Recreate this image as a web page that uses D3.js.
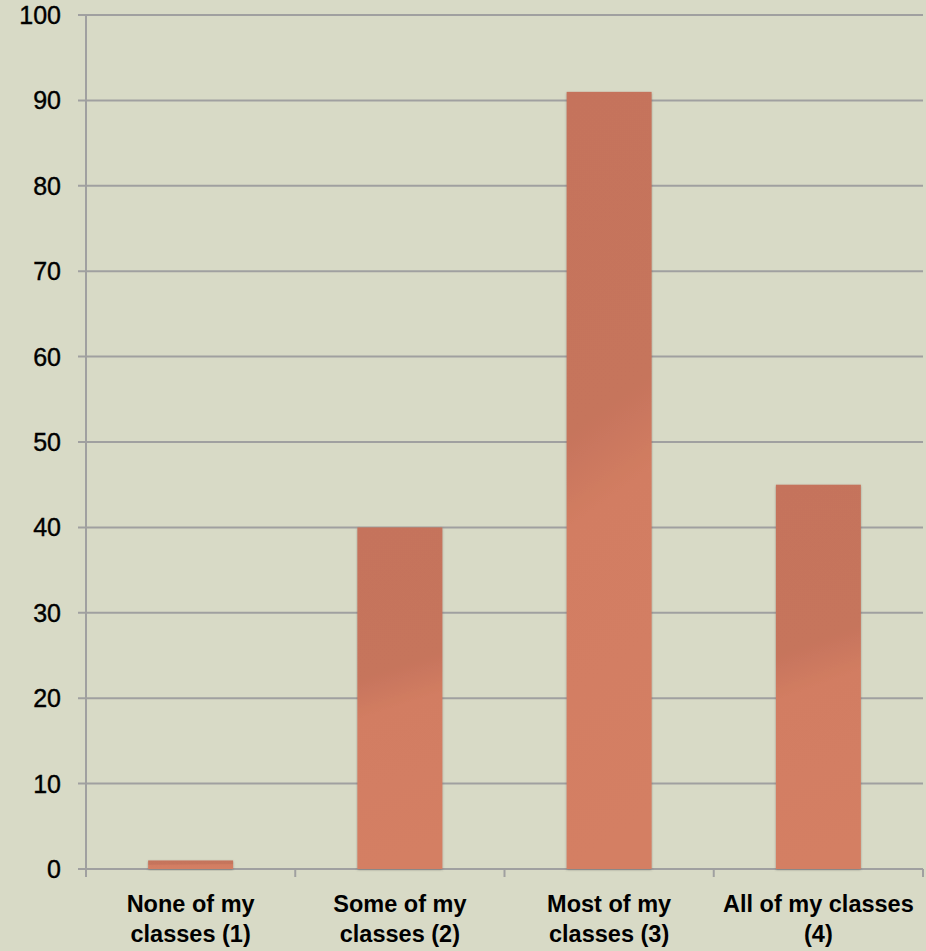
<!DOCTYPE html>
<html>
<head>
<meta charset="utf-8">
<script src="https://cdn.jsdelivr.net/npm/d3@7"></script>
<style>
  html, body { margin: 0; padding: 0; background: #d8dac6; }
  svg { display: block; }
  text { font-family: "Liberation Sans", Arial, sans-serif; font-weight: bold; fill: #000; }
</style>
</head>
<body>
<svg id="chart" width="926" height="951"></svg>
<script>
const categories = [["None of my", "classes (1)"], ["Some of my", "classes (2)"], ["Most of my", "classes (3)"], ["All of my classes", "(4)"]];
const values = [1, 40, 91, 45];
const yTicks = [0, 10, 20, 30, 40, 50, 60, 70, 80, 90, 100];

const W = 926, H = 951;
const mLeft = 86, mRight = 923, mTop = 15, mBottom = 869;

const svg = d3.select("#chart");
svg.append("rect").attr("width", W).attr("height", H).attr("fill", "#d8dac6");

const defs = svg.append("defs");
const grad = defs.append("linearGradient").attr("id", "barGrad")
  .attr("x1", 0).attr("y1", 0).attr("x2", 0.08).attr("y2", 1);
grad.append("stop").attr("offset", "0").attr("stop-color", "#c5735b");
grad.append("stop").attr("offset", "0.44").attr("stop-color", "#c6745c");
grad.append("stop").attr("offset", "0.56").attr("stop-color", "#d27d62");
grad.append("stop").attr("offset", "1").attr("stop-color", "#d47f64");

const f = defs.append("filter").attr("id", "shadow").attr("x", "-20%").attr("y", "-20%").attr("width", "140%").attr("height", "140%");
f.append("feDropShadow").attr("dx", 0).attr("dy", 1).attr("stdDeviation", 1.3)
  .attr("flood-color", "#555").attr("flood-opacity", 0.45);

const x = d3.scaleBand().domain(d3.range(categories.length)).range([mLeft, mRight]).paddingInner(0.594).paddingOuter(0.297);
const xOuter = d3.scaleBand().domain(d3.range(categories.length)).range([mLeft, mRight]);
const y = d3.scaleLinear().domain([0, 100]).range([mBottom, mTop]);

// gridlines
svg.append("g").selectAll("line").data(yTicks).join("line")
  .attr("x1", mLeft - 8).attr("x2", mRight)
  .attr("y1", d => y(d)).attr("y2", d => y(d))
  .attr("stroke", "#a0a0a0").attr("stroke-width", 2);

// y axis line
svg.append("line").attr("x1", mLeft).attr("x2", mLeft).attr("y1", mTop).attr("y2", mBottom + 8)
  .attr("stroke", "#a0a0a0").attr("stroke-width", 2);

// x ticks
const xTickPos = d3.range(1, categories.length).map(i => xOuter(i)).concat([mRight]);
svg.append("g").selectAll("line").data(xTickPos).join("line")
  .attr("x1", d => d).attr("x2", d => d).attr("y1", mBottom).attr("y2", mBottom + 8)
  .attr("stroke", "#a0a0a0").attr("stroke-width", 2);

// bars
svg.append("g").selectAll("rect").data(values).join("rect")
  .attr("x", (d, i) => x(i)).attr("width", x.bandwidth())
  .attr("y", d => y(d)).attr("height", d => mBottom - y(d))
  .attr("fill", "url(#barGrad)").attr("filter", "url(#shadow)");

// y labels
svg.append("g").selectAll("text").data(yTicks).join("text")
  .attr("x", 61).attr("y", d => y(d) + 9)
  .attr("text-anchor", "end").attr("font-size", 25).style("font-weight", "normal")
  .attr("stroke", "#000").attr("stroke-width", 0.4)
  .text(d => d);

// x labels
const xl = svg.append("g").selectAll("text").data(categories).join("text")
  .attr("text-anchor", "middle").attr("font-size", 23.5)
  .attr("x", (d, i) => xOuter(i) + xOuter.bandwidth() / 2);
xl.selectAll("tspan").data(d => d).join("tspan")
  .attr("x", function() { return d3.select(this.parentNode).attr("x"); })
  .attr("y", (d, j) => j === 0 ? 912 : 942)
  .text(d => d);
</script>
</body>
</html>
